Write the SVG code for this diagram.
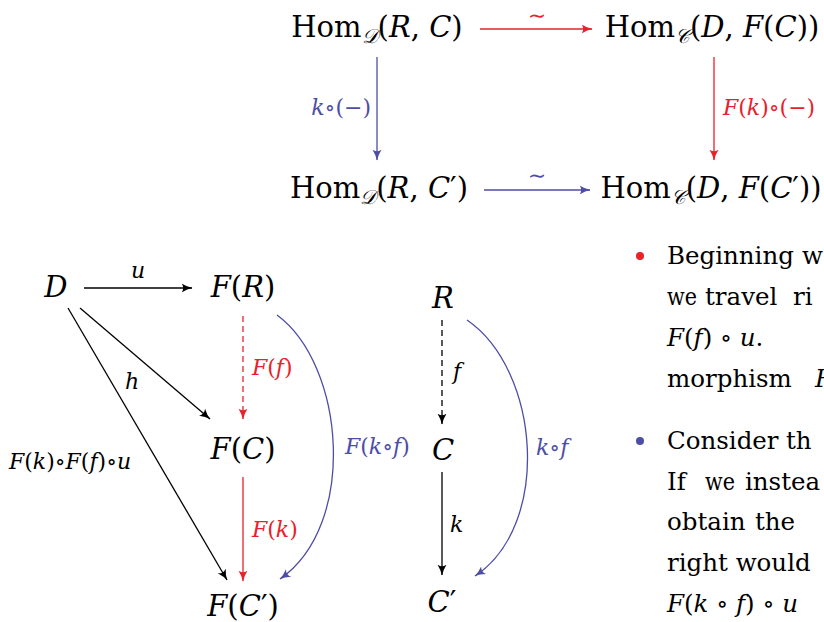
<svg xmlns="http://www.w3.org/2000/svg" width="824" height="622" viewBox="0 0 824 622" font-family="DejaVu Serif, serif">
<style>
text { font-family: "DejaVu Serif", serif; }
.n { font-size: 29px; }
.s { font-size: 20px; }
.l { font-size: 22px; }
.b { font-size: 24.5px; }
.i { font-style: italic; }
.red { fill: #e8212b; }
.blue { fill: #4d4da6; }
.ln { fill: none; stroke-width: 1.3; }
.k { stroke: #000; }
.r { stroke: #e8212b; }
.u { stroke: #4d4da6; }
.d { stroke-dasharray: 6 4; }
</style>
<defs>
<marker id="ak" viewBox="0 0 10 10" refX="9.5" refY="5" markerWidth="11" markerHeight="11" markerUnits="userSpaceOnUse" orient="auto"><path d="M0,0.8 Q5,4 10,5 Q5,6 0,9.2 Q3,5 0,0.8z" fill="#000"/></marker>
<marker id="ar" viewBox="0 0 10 10" refX="9.5" refY="5" markerWidth="11" markerHeight="11" markerUnits="userSpaceOnUse" orient="auto"><path d="M0,0.8 Q5,4 10,5 Q5,6 0,9.2 Q3,5 0,0.8z" fill="#e8212b"/></marker>
<marker id="au" viewBox="0 0 10 10" refX="9.5" refY="5" markerWidth="11" markerHeight="11" markerUnits="userSpaceOnUse" orient="auto"><path d="M0,0.8 Q5,4 10,5 Q5,6 0,9.2 Q3,5 0,0.8z" fill="#4d4da6"/></marker>
</defs>

<!-- Top square -->
<g id="homRC"><text class="n" x="377" y="37" text-anchor="middle">Hom<tspan class="s i" dy="6">𝒟</tspan><tspan dy="-6">(</tspan><tspan class="i">R</tspan>, <tspan class="i">C</tspan>)</text></g>
<g id="homDFC"><text class="n" x="712" y="37" text-anchor="middle">Hom<tspan class="s i" dy="6">𝒞</tspan><tspan dy="-6">(</tspan><tspan class="i">D</tspan>, <tspan class="i">F</tspan>(<tspan class="i">C</tspan>))</text></g>
<g id="homRC2"><text class="n" x="379" y="198" text-anchor="middle">Hom<tspan class="s i" dy="6">𝒟</tspan><tspan dy="-6">(</tspan><tspan class="i">R</tspan>, <tspan class="i">C</tspan>′)</text></g>
<g id="homDFC2"><text class="n" x="711" y="198" text-anchor="middle">Hom<tspan class="s i" dy="6">𝒞</tspan><tspan dy="-6">(</tspan><tspan class="i">D</tspan>, <tspan class="i">F</tspan>(<tspan class="i">C</tspan>′))</text></g>

<!-- Bottom-left diagram -->
<g id="D"><text class="n i" x="56" y="297" text-anchor="middle">D</text></g>
<g id="FR"><text class="n" x="243" y="297" text-anchor="middle"><tspan class="i">F</tspan>(<tspan class="i">R</tspan>)</text></g>
<g id="FC"><text class="n" x="243" y="459" text-anchor="middle"><tspan class="i">F</tspan>(<tspan class="i">C</tspan>)</text></g>
<g id="FC2"><text class="n" x="243" y="616" text-anchor="middle"><tspan class="i">F</tspan>(<tspan class="i">C</tspan>′)</text></g>

<!-- Middle diagram -->
<g id="R"><text class="n i" x="443" y="308" text-anchor="middle">R</text></g>
<g id="C"><text class="n i" x="443" y="460" text-anchor="middle">C</text></g>
<g id="C2"><text class="n" x="442" y="612" text-anchor="middle"><tspan class="i">C</tspan>′</text></g>

<g id="connectors">
  <line class="ln r" x1="480" y1="29" x2="592" y2="29" marker-end="url(#ar)"/>
  <text class="l red" x="537" y="23" text-anchor="middle">∼</text>
  <line class="ln u" x1="484" y1="190" x2="590" y2="190" marker-end="url(#au)"/>
  <text class="l blue" x="537" y="183" text-anchor="middle">∼</text>
  <line class="ln u" x1="377" y1="57" x2="377" y2="160" marker-end="url(#au)"/>
  <text class="l blue" x="371" y="115" text-anchor="end"><tspan class="i">k</tspan>∘(−)</text>
  <line class="ln r" x1="714" y1="57" x2="714" y2="160" marker-end="url(#ar)"/>
  <text class="l red" x="723" y="115"><tspan class="i">F</tspan>(<tspan class="i">k</tspan>)∘(−)</text>

  <line class="ln k" x1="84" y1="288" x2="192" y2="288" marker-end="url(#ak)"/>
  <text class="l i" x="138" y="278" text-anchor="middle">u</text>
  <line class="ln k" x1="80" y1="308" x2="210" y2="419" marker-end="url(#ak)"/>
  <text class="l i" x="132" y="389" text-anchor="middle">h</text>
  <line class="ln k" x1="68" y1="308" x2="227" y2="580" marker-end="url(#ak)"/>
  <text class="l" x="9" y="469"><tspan class="i">F</tspan>(<tspan class="i">k</tspan>)∘<tspan class="i">F</tspan>(<tspan class="i">f</tspan>)∘<tspan class="i">u</tspan></text>
  <line class="ln r d" x1="243" y1="316" x2="243" y2="419" marker-end="url(#ar)"/>
  <text class="l red" x="252" y="375"><tspan class="i">F</tspan>(<tspan class="i">f</tspan>)</text>
  <line class="ln r" x1="243" y1="477" x2="243" y2="581" marker-end="url(#ar)"/>
  <text class="l red" x="252" y="537"><tspan class="i">F</tspan>(<tspan class="i">k</tspan>)</text>
  <path class="ln u" d="M277,315 C345,365 358,525 280,579" marker-end="url(#au)"/>
  <text class="l blue" x="345" y="454"><tspan class="i">F</tspan>(<tspan class="i">k</tspan>∘<tspan class="i">f</tspan>)</text>

  <line class="ln k d" x1="442" y1="320" x2="442" y2="424" marker-end="url(#ak)"/>
  <text class="l i" x="453" y="379">f</text>
  <line class="ln k" x1="442" y1="472" x2="442" y2="575" marker-end="url(#ak)"/>
  <text class="l i" x="450" y="532">k</text>
  <path class="ln u" d="M467,320 C540,370 552,525 475,576" marker-end="url(#au)"/>
  <text class="l blue" x="536" y="455"><tspan class="i">k</tspan>∘<tspan class="i">f</tspan></text>
</g>

<!-- Right text -->
<circle cx="640" cy="256" r="4" fill="#e8212b"/>
<text class="b" y="264"><tspan x="667">Beginning</tspan><tspan x="802">w</tspan></text>
<text class="b" y="305"><tspan x="667" textLength="30" lengthAdjust="spacingAndGlyphs">we</tspan><tspan x="705">travel</tspan><tspan x="793">ri</tspan></text>
<text class="b" y="346"><tspan x="667" class="i">F</tspan>(<tspan class="i">f</tspan>) ∘ <tspan class="i">u</tspan>.</text>
<text class="b" y="387"><tspan x="667">morphism</tspan><tspan x="815" class="i">F</tspan></text>
<circle cx="640" cy="441" r="4" fill="#4d4da6"/>
<text class="b" y="449"><tspan x="667">Consider</tspan><tspan x="786">th</tspan></text>
<text class="b" y="490"><tspan x="667">If</tspan><tspan x="705" textLength="30" lengthAdjust="spacingAndGlyphs">we</tspan><tspan x="745">instea</tspan></text>
<text class="b" y="530"><tspan x="667">obtain</tspan><tspan x="755">the</tspan></text>
<text class="b" x="667" y="571">right would</text>
<text class="b" y="612"><tspan x="667" class="i">F</tspan>(<tspan class="i">k</tspan> ∘ <tspan class="i">f</tspan>) ∘ <tspan class="i">u</tspan></text>
</svg>
